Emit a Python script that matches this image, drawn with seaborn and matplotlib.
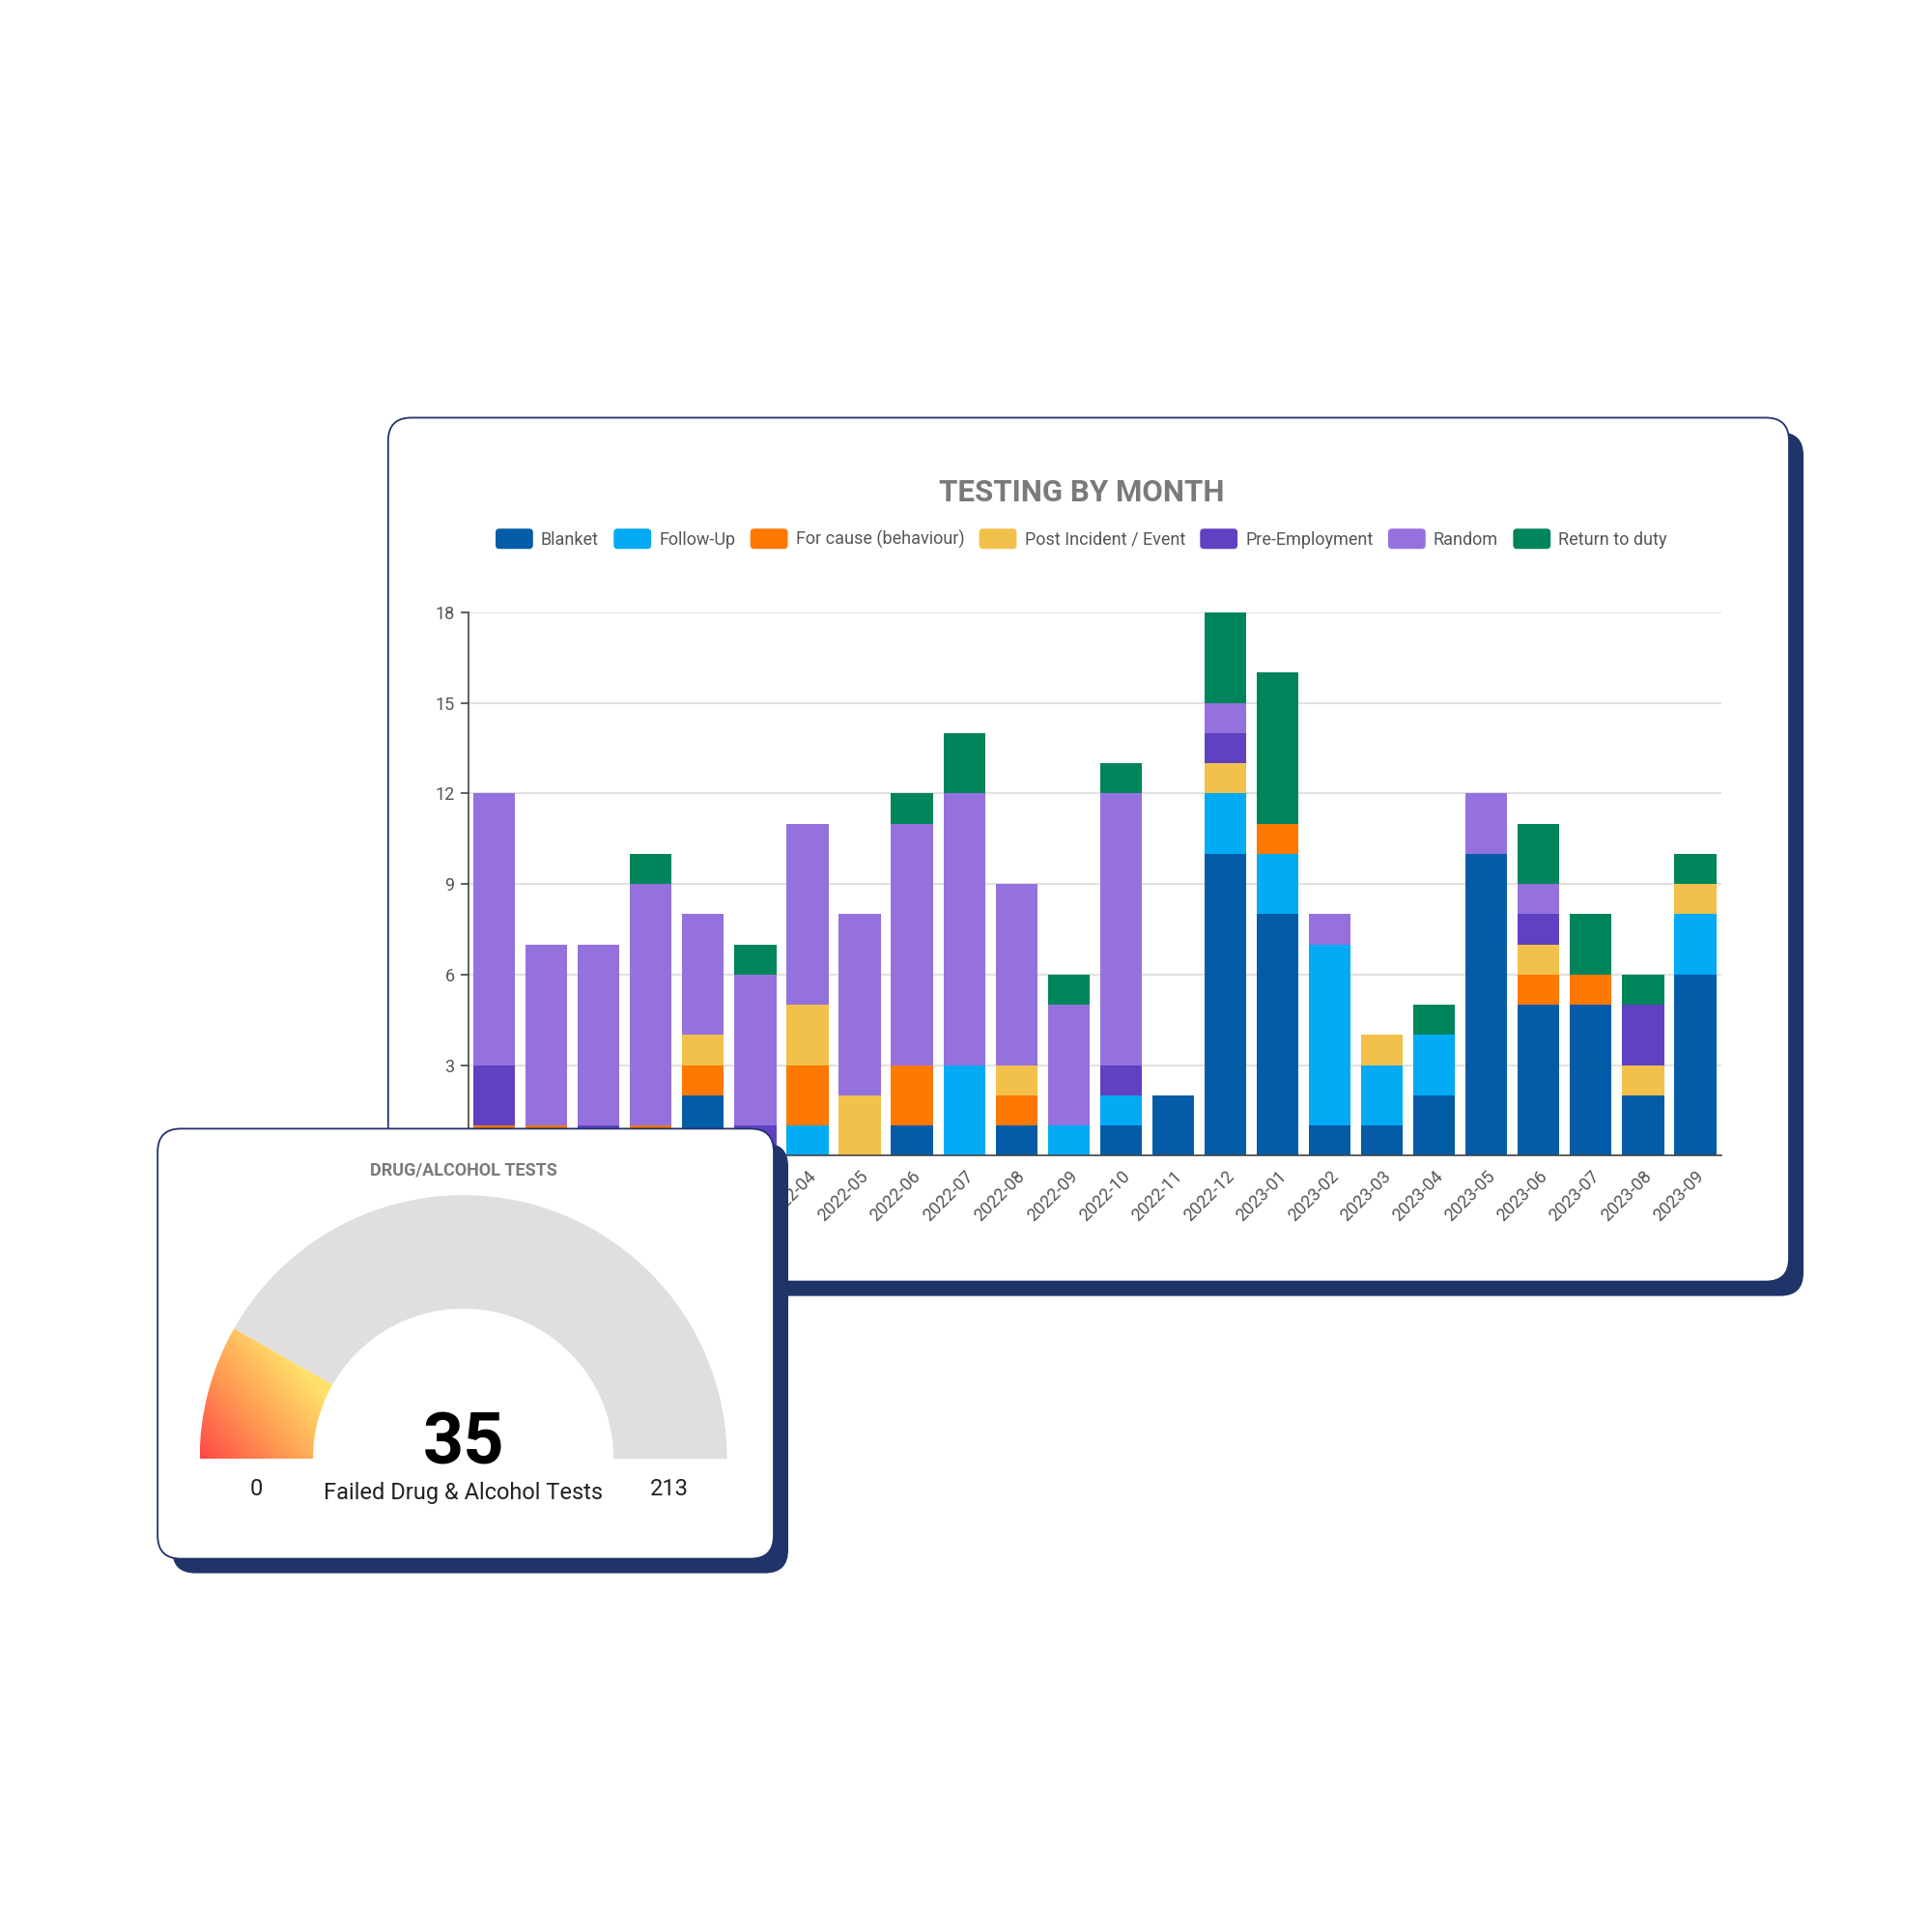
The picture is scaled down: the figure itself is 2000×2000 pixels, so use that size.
import numpy as np
import pandas as pd
import seaborn as sns
import matplotlib.pyplot as plt
from matplotlib.patches import FancyBboxPatch, Wedge, Patch
from matplotlib.legend_handler import HandlerPatch
from matplotlib.colors import LinearSegmentedColormap

# monthly test counts (bottom of the first six bars is hidden by the gauge card)
months = ['2021-10', '2021-11', '2021-12', '2022-01', '2022-02', '2022-03',
          '2022-04', '2022-05', '2022-06', '2022-07', '2022-08', '2022-09',
          '2022-10', '2022-11', '2022-12', '2023-01', '2023-02', '2023-03',
          '2023-04', '2023-05', '2023-06', '2023-07', '2023-08', '2023-09']
blanket = [0, 0, 0, 0, 2, 0, 0, 0, 1, 0, 1, 0, 1, 2, 10, 8, 1, 1, 2, 10, 5, 5, 2, 6]
follow_up = [0, 0, 0, 0, 0, 0, 1, 0, 0, 3, 0, 1, 1, 0, 2, 2, 6, 2, 2, 0, 0, 0, 0, 2]
for_cause = [1, 1, 0, 1, 1, 0, 2, 0, 2, 0, 1, 0, 0, 0, 0, 1, 0, 0, 0, 0, 1, 1, 0, 0]
post_incident = [0, 0, 0, 0, 1, 0, 2, 2, 0, 0, 1, 0, 0, 0, 1, 0, 0, 1, 0, 0, 1, 0, 1, 1]
pre_employment = [2, 0, 1, 0, 0, 1, 0, 0, 0, 0, 0, 0, 1, 0, 1, 0, 0, 0, 0, 0, 1, 0, 2, 0]
random_tests = [9, 6, 6, 8, 4, 5, 6, 6, 8, 9, 6, 4, 9, 0, 1, 0, 1, 0, 0, 2, 1, 0, 0, 0]
return_to_duty = [0, 0, 0, 1, 0, 1, 0, 0, 1, 2, 0, 1, 1, 0, 3, 5, 0, 0, 1, 0, 2, 2, 1, 1]

test_types = ['Blanket', 'Follow-Up', 'For cause (behaviour)', 'Post Incident / Event',
              'Pre-Employment', 'Random', 'Return to duty']
colors = ['#045ca6', '#03aaf4', '#ff7800', '#f2c14b', '#6041c1', '#9571de', '#00845c']

# gauge
failed_tests = 35
total_tests = 213

navy = '#1f3468'

sns.set_style('white')
plt.rcParams['font.family'] = ['Roboto', 'DejaVu Sans']

fig = plt.figure(figsize=(20, 20), dpi=100)

# background layer: main card with its shadow
bg = fig.add_axes([0, 0, 1, 1], zorder=0)
bg.set_xlim(0, 1)
bg.set_ylim(0, 1)
bg.axis('off')

off = 0.0075
x0, x1, y0, y1 = 0.2009, 0.9260, 0.3367, 0.7838
bg.add_patch(FancyBboxPatch((x0 + off, y0 - off), x1 - x0, y1 - y0,
                            boxstyle='round,pad=0,rounding_size=0.012', fc=navy, ec='none'))
bg.add_patch(FancyBboxPatch((x0, y0), x1 - x0, y1 - y0,
                            boxstyle='round,pad=0,rounding_size=0.012', fc='white', ec=navy, lw=1.3))

bg.text(0.5600, 0.7449, 'TESTING BY MONTH', ha='center', va='center',
        fontsize=22.5, fontweight='bold', color='#7a7a7a')


class RoundHandler(HandlerPatch):
    def create_artists(self, legend, orig_handle, xdescent, ydescent, width, height, fontsize, trans):
        p = FancyBboxPatch((-xdescent, -ydescent - height * 0.15), width, height * 1.3,
                           boxstyle='round,pad=0,rounding_size=%f' % (height * 0.25),
                           fc=orig_handle.get_facecolor(), ec='none', transform=trans)
        return [p]


handles = [Patch(facecolor=c, label=t) for t, c in zip(test_types, colors)]
bg.legend(handles=handles, loc='center', bbox_to_anchor=(0.5597, 0.7207), ncol=7,
          frameon=False, fontsize=13, labelcolor='#555555',
          handlelength=2.15, handleheight=1.0, handletextpad=0.45, columnspacing=0.85,
          handler_map={Patch: RoundHandler()})

# stacked bars: draw cumulative totals from the top series down
df = pd.DataFrame({'month': months})
for t, vals in zip(test_types, [blanket, follow_up, for_cause, post_incident,
                                 pre_employment, random_tests, return_to_duty]):
    df[t] = vals
df_cum = df[test_types].cumsum(axis=1)
df_cum['month'] = months

ax = fig.add_axes([0.2423, 0.4018, 0.6487, 0.2812], zorder=1)
ax.set_facecolor('none')
for t, c in reversed(list(zip(test_types, colors))):
    sns.barplot(data=df_cum, x='month', y=t, order=months, color=c, saturation=1,
                width=0.8, errorbar=None, linewidth=0, ax=ax)

ax.set_xlim(-0.5, len(months) - 0.5)
ax.set_ylim(0, 18)
yticks = list(range(0, 19, 3))
ax.set_yticks(yticks)
# the 0 label sits behind the gauge card
ax.set_yticklabels([''] + [str(v) for v in yticks[1:]])
ax.yaxis.grid(True, color='#dcdcdc', lw=1.2)
ax.set_axisbelow(True)
ax.set_xlabel('')
ax.set_ylabel('')
for s in ['top', 'right']:
    ax.spines[s].set_visible(False)
for s in ['left', 'bottom']:
    ax.spines[s].set_color('#444444')
    ax.spines[s].set_linewidth(1.2)
ax.set_xticks(range(len(months)))
ax.set_xticklabels(months, rotation=45, ha='right', rotation_mode='anchor')
ax.set_xticks(np.arange(-0.5, len(months), 1), minor=True)
ax.tick_params(axis='x', which='major', length=0, pad=9, labelsize=13, labelcolor='#555555')
ax.tick_params(axis='x', which='minor', length=6, width=1.2, color='#444444')
ax.tick_params(axis='y', length=6, width=1.2, color='#444444', labelsize=13,
               labelcolor='#555555', left=True, pad=4)

# overlay layer: gauge card
ov = fig.add_axes([0, 0, 1, 1], zorder=3)
ov.set_facecolor('none')

gx0, gx1, gy0, gy1 = 0.0816, 0.4005, 0.1932, 0.4158
ov.add_patch(FancyBboxPatch((gx0 + off, gy0 - off), gx1 - gx0, gy1 - gy0,
                            boxstyle='round,pad=0,rounding_size=0.012', fc=navy, ec='none'))
ov.add_patch(FancyBboxPatch((gx0, gy0), gx1 - gx0, gy1 - gy0,
                            boxstyle='round,pad=0,rounding_size=0.012', fc='white', ec=navy, lw=1.3))

cx, cy = 0.2398, 0.2449
r_out, r_in = 0.1365, 0.0778
split = 180 - 180 * failed_tests / total_tests
ov.add_patch(Wedge((cx, cy), r_out, 0, split, width=r_out - r_in, fc='#e0dedf', ec='none'))
fill = Wedge((cx, cy), r_out, split, 180, width=r_out - r_in, fc='none', ec='none')
ov.add_patch(fill)

cmap = LinearSegmentedColormap.from_list('gauge', ['#ff4848', '#ff9a52', '#ffe06a', '#fdec78'])
gx = np.linspace(0, 1, 200)
gy = np.linspace(0, 1, 200)
GX, GY = np.meshgrid(gx, gy)
grad = (GX + GY) / 2
img = ov.imshow(grad, cmap=cmap, origin='lower',
                extent=(cx - r_out, cx - r_out * 0.5, cy, cy + r_out * 0.6), aspect='auto', zorder=2)
img.set_clip_path(fill)

ov.text(cx, 0.3941, 'DRUG/ALCOHOL TESTS', ha='center', va='center',
        fontsize=13, fontweight='bold', color='#7a7a7a')
ov.text(cx, 0.2423, str(failed_tests), ha='center', va='baseline',
        fontsize=53, fontweight='bold', color='black')
ov.text(cx, 0.2274, 'Failed Drug & Alcohol Tests', ha='center', va='center',
        fontsize=17, color='#222222')
ov.text(0.1327, 0.2290, '0', ha='center', va='center', fontsize=17, color='#222222')
ov.text(0.3463, 0.2290, str(total_tests), ha='center', va='center', fontsize=17, color='#222222')

ov.set_xlim(0, 1)
ov.set_ylim(0, 1)
ov.axis('off')

fig.savefig('out.png', dpi=100, facecolor='white')
